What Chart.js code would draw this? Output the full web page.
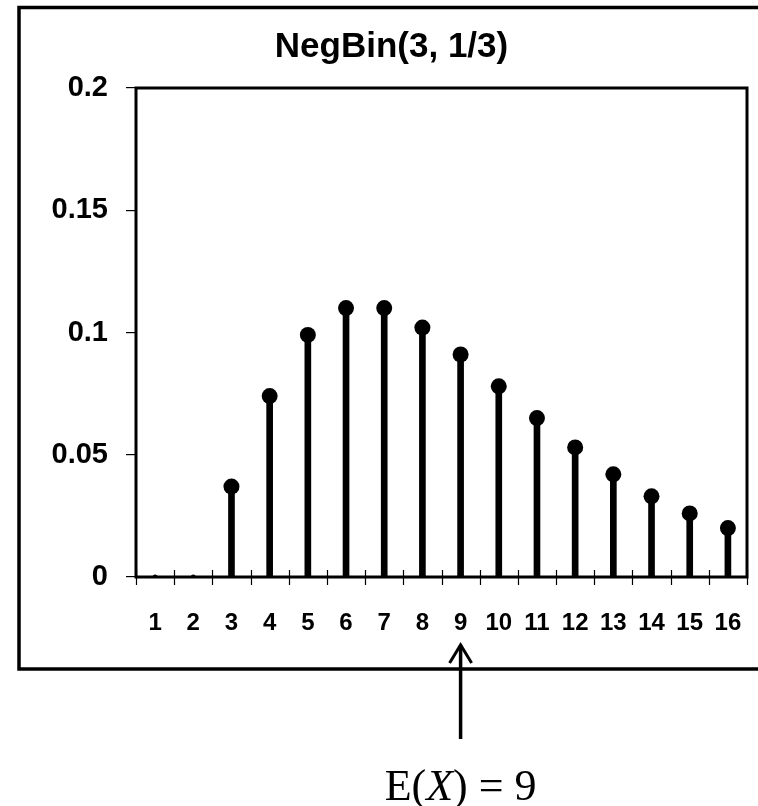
<!DOCTYPE html>
<html>
<head>
<meta charset="utf-8">
<script src="https://cdn.jsdelivr.net/npm/chart.js@4"></script>
<style>
  body { margin: 0; background: #fff; }
  #wrap { position: relative; width: 758px; height: 806px; overflow: hidden; }
  #mean-label {
    position: absolute; top: 760px; left: 0;
    font-family: "Liberation Serif", "Times New Roman", serif;
    font-size: 44px; color: #000; white-space: nowrap;
    transform: translateX(-50%);
  }
</style>
</head>
<body>
<div id="wrap">
  <canvas id="chart" width="758" height="806"></canvas>
  <div id="mean-label">E(<i>X</i>) = 9</div>
</div>
<script>
// values
var categories = ['1', '2', '3', '4', '5', '6', '7', '8', '9', '10', '11', '12', '13', '14', '15', '16'];
var probabilities = [0, 0, 0.037, 0.074, 0.099, 0.110, 0.110, 0.102, 0.091, 0.078, 0.065, 0.053, 0.042, 0.033, 0.026, 0.020];
var yTicks = [0, 0.05, 0.1, 0.15, 0.2];
var yTickLabels = ['0', '0.05', '0.1', '0.15', '0.2'];
var chartTitle = 'NegBin(3, 1/3)';
var meanCategory = '9';

var SANS = '"Liberation Sans", Arial, sans-serif';

var frames = {
    id: 'frames',
    beforeDraw: function (chart) {
        var c = chart.ctx;
        c.save();
        c.fillStyle = '#fff';
        c.fillRect(0, 0, chart.width, chart.height);
        // outer box, right side runs off the picture
        c.strokeStyle = '#000';
        c.lineWidth = 3.5;
        c.strokeRect(19, 7.5, 780, 661.5);
        c.restore();
    },
    beforeDatasetsDraw: function (chart) {
        var a = chart.chartArea;
        var c = chart.ctx;
        c.save();
        c.strokeStyle = '#000';
        c.lineWidth = 3;
        c.strokeRect(a.left, a.top, a.right - a.left, a.bottom - a.top);
        // x ticks between categories, crossing the axis line
        var x = chart.scales.x;
        var half = (x.getPixelForValue(1) - x.getPixelForValue(0)) / 2;
        c.lineWidth = 1.2;
        c.beginPath();
        for (var i = 0; i <= categories.length; i++) {
            var px = Math.round(x.getPixelForValue(i) - half) + 0.5;
            c.moveTo(px, a.bottom - 7);
            c.lineTo(px, a.bottom + 8);
        }
        c.stroke();
        c.restore();
    },
    afterDraw: function (chart) {
        var c = chart.ctx;
        var x = chart.scales.x;
        var px = x.getPixelForValue(categories.indexOf(meanCategory));
        c.save();
        c.strokeStyle = '#000';
        c.lineWidth = 3.5;
        c.beginPath();
        c.moveTo(px, 739);
        c.lineTo(px, 645);
        c.stroke();
        c.lineWidth = 3;
        c.beginPath();
        c.moveTo(px - 11, 663);
        c.lineTo(px, 645);
        c.lineTo(px + 11, 663);
        c.stroke();
        c.restore();
        document.getElementById('mean-label').style.left = px + 'px';
    }
};

new Chart(document.getElementById('chart').getContext('2d'), {
    data: {
        labels: categories,
        datasets: [{
            type: 'line',
            data: probabilities,
            showLine: false,
            order: 0,
            pointRadius: function (ctx) { return ctx.raw === 0 ? 2.5 : 8; },
            pointHoverRadius: 8,
            pointBackgroundColor: '#000',
            pointBorderWidth: 0
        }, {
            type: 'bar',
            data: probabilities,
            order: 1,
            barThickness: 6,
            backgroundColor: '#000',
            borderWidth: 0
        }]
    },
    options: {
        responsive: false,
        animation: false,
        layout: { padding: { left: 36, right: 11, top: 0, bottom: 0 } },
        plugins: {
            legend: { display: false },
            tooltip: { enabled: false },
            title: {
                display: true,
                text: chartTitle,
                color: '#000',
                font: { family: SANS, size: 35, weight: 'bold', lineHeight: 1.2 },
                padding: { top: 26, bottom: 20 }
            }
        },
        scales: {
            x: {
                grid: { display: false },
                border: { display: false },
                ticks: {
                    color: '#000',
                    padding: 24,
                    maxRotation: 0,
                    autoSkip: false,
                    font: { family: SANS, size: 24, weight: 'bold' }
                },
                afterFit: function (s) {
                    s.height = 229;
                    s.paddingLeft = 0;
                    s.paddingRight = 0;
                }
            },
            y: {
                min: 0,
                max: 0.2,
                afterBuildTicks: function (s) {
                    s.ticks = yTicks.map(function (v) { return { value: v }; });
                },
                grid: {
                    drawOnChartArea: false,
                    tickLength: 10,
                    tickColor: '#000',
                    lineWidth: 1.2
                },
                border: { display: false },
                ticks: {
                    color: '#000',
                    padding: 18,
                    font: { family: SANS, size: 29, weight: 'bold' },
                    callback: function (v, i) { return yTickLabels[i]; }
                },
                afterFit: function (s) { s.width = 100; }
            }
        }
    },
    plugins: [frames]
});
</script>
</body>
</html>
